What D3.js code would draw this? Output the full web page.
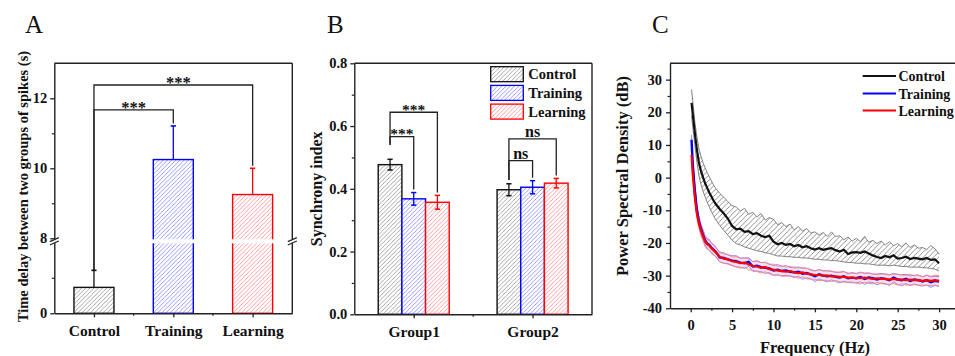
<!DOCTYPE html>
<html><head><meta charset="utf-8">
<script src="https://cdn.jsdelivr.net/npm/d3@7"></script>
<style>
body{margin:0;background:#fff;}
svg{display:block;}
text{font-family:"Liberation Serif","Times New Roman",serif;fill:#111;}
</style></head>
<body><svg id="c" width="955" height="356"></svg>
<script>
// ---------- DATA ----------
// Panel A
const groupsA = ["Control", "Training", "Learning"];
const delayMean = [0.73, 10.25, 9.25];
const delayErr = [0.48, 0.96, 0.75];
const yTicksA = [0, 8, 10, 12];
const yMinorA = [1, 9, 11];
// Panel B
const groupsB = ["Group1", "Group2"];
const seriesB = ["Control", "Training", "Learning"];
const syncControl = [0.477, 0.397];
const syncTraining = [0.368, 0.405];
const syncLearning = [0.357, 0.418];
const syncControlErr = [0.017, 0.019];
const syncTrainingErr = [0.020, 0.021];
const syncLearningErr = [0.022, 0.015];
const yTicksB = [0, 0.2, 0.4, 0.6, 0.8];
const yMinorB = [0.1, 0.3, 0.5, 0.7];
// Panel C
const freq = [0.1,0.25,0.5,0.75,1,1.25,1.5,1.75,2,2.25,2.5,2.75,3,
  3.5,4,4.5,5,5.5,6,6.5,7,7.5,8,
  8.5,9,9.5,10,10.5,11,11.5,12,12.5,13,
  13.5,14,14.5,15,15.5,16,16.5,17,17.5,18,
  18.5,19,19.5,20,20.5,21,21.5,22,22.5,23,
  23.5,24,24.5,25,25.5,26,26.5,27,27.5,28,
  28.5,29,29.5,30];
const psdControl = [22.9,19.5,13.6,8.5,4.5,2.0,0.0,-1.8,-3.2,-4.6,-5.8,-7.0,-8.0,
  -9.6,-11.0,-12.6,-14.8,-15.8,-15.6,-16.6,-16.4,-17.3,-17.0,
  -17.8,-18.2,-17.8,-19.6,-20.4,-20.0,-20.6,-20.3,-21.0,-20.6,
  -21.3,-21.0,-21.6,-22.0,-21.6,-22.1,-21.8,-21.6,-22.2,-22.6,
  -22.1,-23.4,-22.9,-22.8,-23.0,-22.6,-23.2,-23.8,-24.3,-24.6,
  -24.0,-24.4,-23.8,-24.8,-24.6,-24.2,-24.9,-24.6,-24.8,-25.0,
  -24.6,-25.2,-25.0,-26.2];
const psdControlUpper = [27.0,23.5,17.0,12.5,8.8,6.5,4.5,3.0,1.5,0.2,-1.0,-2.2,-3.2,
  -4.8,-6.0,-7.4,-8.6,-9.0,-10.2,-9.4,-11.2,-10.6,-12.0,
  -11.0,-13.0,-12.2,-12.8,-14.4,-13.8,-15.0,-14.2,-16.0,-15.0,
  -16.4,-15.6,-17.0,-16.6,-17.6,-16.8,-18.0,-16.6,-18.0,-17.8,
  -19.0,-18.2,-19.4,-18.6,-19.6,-18.0,-19.8,-19.2,-20.2,-19.4,
  -20.6,-19.6,-20.8,-20.2,-21.2,-20.0,-21.4,-20.6,-21.6,-21.4,
  -22.0,-20.8,-21.8,-23.4];
const psdControlLower = [19.0,15.5,10.0,4.8,0.5,-2.2,-4.2,-6.0,-7.6,-9.0,-10.4,-11.6,-12.8,
  -14.6,-16.2,-17.6,-19.2,-20.2,-20.6,-21.2,-21.6,-22.0,-22.4,
  -22.6,-23.0,-23.2,-23.6,-24.0,-24.0,-24.2,-24.2,-24.4,-24.4,
  -24.6,-24.6,-24.8,-25.0,-25.0,-25.2,-25.2,-25.4,-25.4,-25.6,
  -25.8,-26.0,-26.0,-26.2,-26.2,-26.4,-26.4,-26.6,-26.8,-26.8,
  -26.8,-27.0,-26.8,-27.0,-27.2,-27.2,-27.4,-27.4,-27.4,-27.6,
  -27.6,-27.8,-28.0,-28.6];
const psdTraining = [11.6,4.0,-4.0,-10.0,-13.5,-15.8,-17.6,-19.2,-20.2,-20.6,-21.4,-22.0,-22.6,
  -24.4,-24.6,-25.0,-25.4,-25.6,-26.0,-26.2,-25.8,-27.2,-27.0,
  -27.4,-27.6,-27.8,-28.4,-28.2,-28.6,-28.4,-28.8,-29.0,-28.8,
  -29.4,-29.2,-29.6,-30.2,-29.6,-30.0,-30.2,-30.0,-30.4,-30.6,
  -30.2,-30.8,-30.6,-30.8,-30.4,-31.0,-30.6,-30.8,-31.2,-30.8,
  -31.0,-31.4,-30.6,-31.2,-31.4,-31.0,-31.6,-31.2,-31.4,-31.8,
  -31.4,-32.0,-31.6,-31.8];
const psdTrainingSd = [1.5,1.6,1.8,1.7,1.6,1.5,1.6,1.4,1.5,1.7,1.4,1.6,1.5,
  1.4,1.6,1.3,1.5,1.7,1.4,1.6,1.3,1.5,1.6,
  1.4,1.7,1.3,1.5,1.6,1.4,1.5,1.3,1.6,1.4,
  1.7,1.5,1.3,1.6,1.4,1.5,1.7,1.3,1.4,1.6,
  1.5,1.3,1.6,1.4,1.5,1.7,1.4,1.3,1.6,1.5,
  1.4,1.6,1.3,1.5,1.7,1.4,1.5,1.3,1.6,1.4,
  1.5,1.6,1.4,1.5];
const psdLearning = [7.0,1.0,-6.0,-11.0,-14.0,-16.2,-18.0,-19.6,-20.4,-20.8,-21.6,-22.2,-22.8,
  -24.2,-24.8,-25.0,-25.6,-25.8,-26.2,-26.0,-26.6,-27.0,-27.2,
  -27.6,-27.4,-28.0,-28.2,-28.4,-28.6,-28.8,-28.6,-29.0,-29.2,
  -29.0,-29.4,-29.6,-29.8,-29.8,-30.0,-30.0,-30.2,-30.2,-30.4,
  -30.4,-30.6,-30.6,-30.8,-30.8,-30.6,-30.8,-31.0,-30.8,-31.0,
  -31.0,-31.2,-31.0,-31.2,-31.2,-31.4,-31.2,-31.4,-31.4,-31.6,
  -31.4,-31.6,-31.4,-31.6];
const psdLearningSd = [1.6,1.5,1.7,1.6,1.5,1.7,1.4,1.6,1.5,1.4,1.6,1.5,1.3,
  1.6,1.4,1.5,1.3,1.6,1.5,1.4,1.7,1.3,1.5,
  1.6,1.4,1.5,1.7,1.3,1.6,1.4,1.5,1.3,1.6,
  1.4,1.6,1.5,1.3,1.7,1.4,1.5,1.6,1.3,1.5,
  1.6,1.4,1.3,1.5,1.7,1.4,1.6,1.5,1.3,1.4,
  1.6,1.5,1.4,1.7,1.3,1.5,1.6,1.4,1.5,1.3,
  1.6,1.4,1.5,1.6];
const xTicksC = [0, 5, 10, 15, 20, 25, 30];
const xMinorC = [2.5, 7.5, 12.5, 17.5, 22.5, 27.5];
const yTicksC = [-40, -30, -20, -10, 0, 10, 20, 30];
const yMinorC = [-35, -25, -15, -5, 5, 15, 25];

// ---------- STYLE ----------
const colors = {Control: "#111111", Training: "#0000ff", Learning: "#ff0000"};
const hatchColors = {Control: "#777777", Training: "#6464ff", Learning: "#ff6a6a"};
const AX = "#222";

const svg = d3.select("#c");
const defs = svg.append("defs");
function hatch(id, color, size, sw) {
  const p = defs.append("pattern").attr("id", id).attr("patternUnits", "userSpaceOnUse")
    .attr("width", size).attr("height", size);
  p.append("rect").attr("width", size).attr("height", size).attr("fill", "#ffffff");
  p.append("path").attr("d", `M${-size/4},${size/4} L${size/4},${-size/4} M0,${size} L${size},0 M${size*0.75},${size*1.25} L${size*1.25},${size*0.75}`)
    .attr("stroke", color).attr("stroke-width", sw).attr("fill", "none");
}
hatch("hatchCtl", hatchColors.Control, 4.2, 0.65);
hatch("hatchTrn", hatchColors.Training, 4.2, 0.65);
hatch("hatchLrn", hatchColors.Learning, 4.2, 0.65);
hatch("hatchBand", "#606060", 5.2, 0.7);
const fills = {Control: "url(#hatchCtl)", Training: "url(#hatchTrn)", Learning: "url(#hatchLrn)"};

function styleAxis(g, fs) {
  g.select(".domain").attr("stroke", AX).attr("stroke-width", 1.4);
  g.selectAll(".tick line").attr("stroke", AX).attr("stroke-width", 1.3);
  g.selectAll(".tick text").attr("fill", "#111").style("font-family", '"Liberation Serif",serif')
    .style("font-weight", "bold").style("font-size", fs + "px");
}
function minorAxis(g) {
  g.select(".domain").remove();
  g.selectAll(".tick line").attr("stroke", AX).attr("stroke-width", 1.2);
}
function label(x, y, t, opts = {}) {
  const el = svg.append("text").attr("x", x).attr("y", y).text(t)
    .style("font-size", (opts.size || 15) + "px")
    .style("font-weight", opts.bold === false ? "normal" : "bold")
    .attr("text-anchor", opts.anchor || "middle");
  if (opts.rotate) el.attr("transform", `rotate(-90,${x},${y})`);
  return el;
}
function line(x1, y1, x2, y2, color = AX, w = 1.3) {
  svg.append("line").attr("x1", x1).attr("y1", y1).attr("x2", x2).attr("y2", y2)
    .attr("stroke", color).attr("stroke-width", w);
}

// ---------- PANEL A ----------
const A = {l: 54.3, r: 292.3, t: 63.3, b: 313.3};
const xA = d3.scalePoint().domain(groupsA).range([A.l, A.r]).padding(0.5);
const yA = d3.scaleLinear().domain([0, 2, 8, 13]).range([A.b, 242.3, 238.3, A.t]);
const bwA = 40;

function bracketA(i, j, h, dx) {
  const x1 = xA(groupsA[i]), x2 = xA(groupsA[j]), y = yA(h);
  const path = d3.path();
  path.moveTo(x1, yA(delayMean[i] + delayErr[i]));
  path.lineTo(x1, y); path.lineTo(x2, y);
  path.lineTo(x2, yA(delayMean[j] + delayErr[j]) - 2.5);
  svg.append("path").attr("d", path.toString()).attr("fill", "none").attr("stroke", AX).attr("stroke-width", 1.3);
  label((x1 + x2) / 2 + dx, y + 3.2, "***", {size: 16.5});
}
bracketA(0, 1, 11.67, 0);
bracketA(0, 2, 12.38, 5);

groupsA.forEach((g, i) => {
  const x = xA(g), v = delayMean[i], e = delayErr[i];
  svg.append("rect").attr("x", x - bwA / 2).attr("y", yA(v)).attr("width", bwA)
    .attr("height", yA(0) - yA(v)).attr("fill", fills[g]).attr("stroke", colors[g]).attr("stroke-width", 1.4);
  if (v > 8) {
    svg.append("rect").attr("x", x - bwA / 2 - 2).attr("y", 239.3).attr("width", bwA + 4).attr("height", 4).attr("fill", "#fff");
  }
  line(x, yA(v), x, yA(v + e), colors[g], 1.3);
  line(x - 2.6, yA(v + e), x + 2.6, yA(v + e), colors[g], 1.6);
});

const axAy = svg.append("g").attr("transform", `translate(${A.l},0)`)
  .call(d3.axisLeft(yA).tickValues(yTicksA).tickSize(4).tickSizeOuter(0).tickPadding(3).tickFormat(d3.format("d")));
styleAxis(axAy, 14.5);
minorAxis(svg.append("g").attr("transform", `translate(${A.l},0)`)
  .call(d3.axisLeft(yA).tickValues(yMinorA).tickSize(2.5).tickFormat("")));
const axAx = svg.append("g").attr("transform", `translate(0,${A.b})`)
  .call(d3.axisBottom(xA).tickSize(4).tickSizeOuter(0).tickPadding(5));
styleAxis(axAx, 15.5);
axAx.selectAll(".tick text").attr("dy", "0.9em");
for (let i = 0; i < groupsA.length - 1; i++) {
  const mx = (xA(groupsA[i]) + xA(groupsA[i + 1])) / 2;
  line(mx, A.b, mx, A.b + 2.5, AX, 1.2);
}
line(A.l, A.t, A.r, A.t, AX, 1.4);
line(A.r, A.t, A.r, A.b, AX, 1.4);
[A.l, A.r].forEach(x => {
  svg.append("rect").attr("x", x - 1.5).attr("y", 239.2).attr("width", 3).attr("height", 3.6).attr("fill", "#fff");
  line(x - 4.5, 241.6, x + 4.5, 237.6, AX, 1.2);
  line(x - 4.5, 245.0, x + 4.5, 241.0, AX, 1.2);
});
label(27.5, 186.5, "Time delay between two groups of spikes (s)", {size: 14.5, rotate: true});
label(25, 33, "A", {size: 25, bold: false, anchor: "start"});

// ---------- PANEL B ----------
const B = {l: 354.3, r: 592, t: 63.3, b: 314.3};
const xB = d3.scalePoint().domain(groupsB).range([B.l, B.r]).padding(0.5);
const xBsub = d3.scaleBand().domain(seriesB).range([-35.5, 35.5]);
const yB = d3.scaleLinear().domain([0, 0.8]).range([B.b, B.t]);
const valsB = {Control: syncControl, Training: syncTraining, Learning: syncLearning};
const errsB = {Control: syncControlErr, Training: syncTrainingErr, Learning: syncLearningErr};
const cx = (gi, s) => xB(groupsB[gi]) + xBsub(s) + xBsub.bandwidth() / 2;

function bracketB(gi, s1, s2, h, leftBottom, txt, size, dy) {
  const x1 = cx(gi, s1), x2 = cx(gi, s2), y = yB(h);
  const p = d3.path();
  p.moveTo(x1, yB(leftBottom)); p.lineTo(x1, y); p.lineTo(x2, y);
  p.lineTo(x2, yB(valsB[s2][gi] + errsB[s2][gi]) - 3);
  svg.append("path").attr("d", p.toString()).attr("fill", "none").attr("stroke", AX).attr("stroke-width", 1.3);
  label((x1 + x2) / 2, y + dy, txt, {size});
}
bracketB(0, "Control", "Learning", 0.644, 0.54, "***", 15.5, 2.6);
bracketB(0, "Control", "Training", 0.566, 0.54, "***", 15.5, 2.6);
bracketB(1, "Control", "Learning", 0.559, 0.428, "ns", 16, -2);
bracketB(1, "Control", "Training", 0.49, 0.428, "ns", 16, -2);

groupsB.forEach((g, gi) => {
  seriesB.forEach(s => {
    const x = xB(g) + xBsub(s), v = valsB[s][gi], e = errsB[s][gi], c = x + xBsub.bandwidth() / 2;
    svg.append("rect").attr("x", x).attr("y", yB(v)).attr("width", xBsub.bandwidth())
      .attr("height", yB(0) - yB(v)).attr("fill", fills[s]).attr("stroke", colors[s]).attr("stroke-width", 1.4);
    line(c, yB(v - e), c, yB(v + e), colors[s], 1.3);
    line(c - 2.6, yB(v + e), c + 2.6, yB(v + e), colors[s], 1.5);
    line(c - 2.6, yB(v - e), c + 2.6, yB(v - e), colors[s], 1.5);
  });
});
const axBy = svg.append("g").attr("transform", `translate(${B.l},0)`)
  .call(d3.axisLeft(yB).tickValues(yTicksB).tickSize(4).tickSizeOuter(0).tickPadding(3).tickFormat(d3.format(".1f")));
styleAxis(axBy, 14.5);
minorAxis(svg.append("g").attr("transform", `translate(${B.l},0)`)
  .call(d3.axisLeft(yB).tickValues(yMinorB).tickSize(2.5).tickFormat("")));
const axBx = svg.append("g").attr("transform", `translate(0,${B.b})`)
  .call(d3.axisBottom(xB).tickSize(4).tickSizeOuter(0).tickPadding(5));
styleAxis(axBx, 15.5);
axBx.selectAll(".tick text").attr("dy", "0.9em");
line((xB(groupsB[0]) + xB(groupsB[1])) / 2, B.b, (xB(groupsB[0]) + xB(groupsB[1])) / 2, B.b + 2.5, AX, 1.2);
line(B.l, B.t, B.r, B.t, AX, 1.4);
line(B.r, B.t, B.r, B.b, AX, 1.4);
seriesB.forEach((s, i) => {
  const y = 66.7 + i * 18.7;
  svg.append("rect").attr("x", 490.7).attr("y", y).attr("width", 32.6).attr("height", 15)
    .attr("fill", fills[s]).attr("stroke", colors[s]).attr("stroke-width", 1.3);
  label(528.3, y + 12.6, s, {size: 14.5, anchor: "start"});
});
label(322.5, 188.8, "Synchrony index", {size: 16, rotate: true});
label(327, 33, "B", {size: 25, bold: false, anchor: "start"});

// ---------- PANEL C ----------
const C = {l: 670, r: 959.8, t: 63.3, b: 308.3};
const xC = d3.scaleLinear().domain([-2.5, 32.5]).range([C.l, C.r]);
const yC = d3.scaleLinear().domain([-40, 35]).range([C.b, C.t]);
const idx = d3.range(freq.length);
const bandArea = (lo, hi) => d3.area().x(i => xC(freq[i])).y0(i => yC(lo(i))).y1(i => yC(hi(i)));
const ln = f => d3.line().x(i => xC(freq[i])).y(i => yC(f(i)));

svg.append("path").attr("d", bandArea(i => psdControlLower[i], i => psdControlUpper[i])(idx)).attr("fill", "url(#hatchBand)");
svg.append("path").attr("d", ln(i => psdControlUpper[i])(idx)).attr("fill", "none").attr("stroke", "#666").attr("stroke-width", 0.8);
svg.append("path").attr("d", ln(i => psdControlLower[i])(idx)).attr("fill", "none").attr("stroke", "#666").attr("stroke-width", 0.8);
[[psdTraining, psdTrainingSd, "#8080ff", "rgba(110,110,255,0.10)"], [psdLearning, psdLearningSd, "#ff8080", "rgba(255,110,110,0.10)"]].forEach(([m, sd, c, f]) => {
  svg.append("path").attr("d", bandArea(i => m[i] - sd[i], i => m[i] + sd[i])(idx)).attr("fill", f);
  svg.append("path").attr("d", ln(i => m[i] + sd[i])(idx)).attr("fill", "none").attr("stroke", c).attr("stroke-width", 0.9);
  svg.append("path").attr("d", ln(i => m[i] - sd[i])(idx)).attr("fill", "none").attr("stroke", c).attr("stroke-width", 0.9);
});
svg.append("path").attr("d", ln(i => psdControl[i])(idx)).attr("fill", "none").attr("stroke", colors.Control).attr("stroke-width", 2.2);
svg.append("path").attr("d", ln(i => psdTraining[i])(idx)).attr("fill", "none").attr("stroke", colors.Training).attr("stroke-width", 2.4);
svg.append("path").attr("d", ln(i => psdLearning[i])(idx)).attr("fill", "none").attr("stroke", colors.Learning).attr("stroke-width", 2.2);

const axCy = svg.append("g").attr("transform", `translate(${C.l},0)`)
  .call(d3.axisLeft(yC).tickValues(yTicksC).tickSize(4).tickSizeOuter(0).tickPadding(4).tickFormat(d3.format("d")));
styleAxis(axCy, 14.5);
axCy.selectAll(".tick text").text(d => d < 0 ? "-" + Math.abs(d) : d);
minorAxis(svg.append("g").attr("transform", `translate(${C.l},0)`)
  .call(d3.axisLeft(yC).tickValues(yMinorC).tickSize(2.5).tickFormat("")));
const axCx = svg.append("g").attr("transform", `translate(0,${C.b})`)
  .call(d3.axisBottom(xC).tickValues(xTicksC).tickSize(4).tickSizeOuter(0).tickPadding(5).tickFormat(d3.format("d")));
styleAxis(axCx, 14.5);
axCx.selectAll(".tick text").attr("dy", "0.85em");
minorAxis(svg.append("g").attr("transform", `translate(0,${C.b})`)
  .call(d3.axisBottom(xC).tickValues(xMinorC).tickSize(2.5).tickFormat("")));
line(C.l, C.t, C.r, C.t, AX, 1.4);
seriesB.forEach((s, i) => {
  const y = [76, 93.5, 110.5][i];
  line(862.7, y, 896, y, colors[s], 2.2);
  label(898.5, y + 5, s, {size: 14, anchor: "start"});
});
label(628, 176, "Power Spectral Density (dB)", {size: 16.5, rotate: true});
label(815, 352.5, "Frequency (Hz)", {size: 16.5});
label(652, 33, "C", {size: 25, bold: false, anchor: "start"});
</script>
</body></html>
